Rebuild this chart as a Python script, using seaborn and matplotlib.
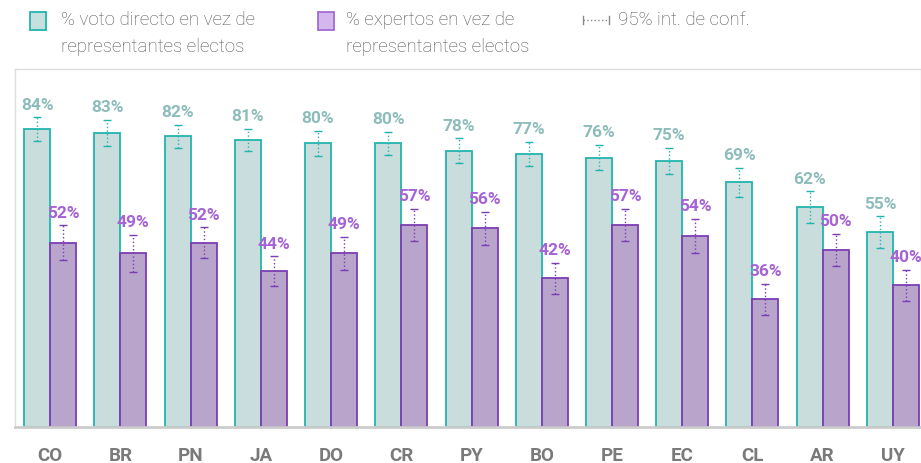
import numpy as np
import pandas as pd
import matplotlib.pyplot as plt
import seaborn as sns
from matplotlib.patches import Rectangle
from matplotlib.lines import Line2D

paises = ['CO', 'BR', 'PN', 'JA', 'DO', 'CR', 'PY', 'BO', 'PE', 'EC', 'CL', 'AR', 'UY']
voto_directo = [84, 83, 82, 81, 80, 80, 78, 77, 76, 75, 69, 62, 55]
expertos = [52, 49, 52, 44, 49, 57, 56, 42, 57, 54, 36, 50, 40]
ic_voto = [3.4, 3.7, 3.2, 3.1, 3.6, 3.3, 3.5, 3.4, 3.6, 3.7, 4.1, 4.5, 4.4]
ic_expertos = [4.9, 5.2, 4.4, 4.1, 4.6, 4.6, 4.7, 4.4, 4.6, 4.8, 4.4, 4.5, 4.4]

serie_1 = '% voto directo en vez de\nrepresentantes electos'
serie_2 = '% expertos en vez de\nrepresentantes electos'

df = pd.DataFrame({
    'pais': paises * 2,
    'valor': voto_directo + expertos,
    'ic': ic_voto + ic_expertos,
    'serie': [serie_1] * len(paises) + [serie_2] * len(paises),
})

teal_face, teal_edge, teal_txt = '#c6e0e0', '#22b5ae', '#8dbdbb'
lila_face, lila_edge, lila_txt = '#b99dd3', '#7a3db3', '#a663d6'

plt.rcParams['font.family'] = ['Roboto', 'DejaVu Sans']
fig = plt.figure(figsize=(9.21, 4.64), dpi=100)
ax = fig.add_axes([0.0163, 0.0776, 0.9837, 0.7716])

sns.barplot(data=df, x='pais', y='valor', hue='serie', hue_order=[serie_1, serie_2],
            palette=[teal_face, lila_face], width=0.74, errorbar=None,
            legend=False, ax=ax)

n = len(paises)
for i, p in enumerate(ax.patches[:2 * n]):
    es_teal = i < n
    p.set_edgecolor(teal_edge if es_teal else lila_edge)
    p.set_linewidth(1.3)

# error bars and labels
for k, (vals, ics, col, txtcol) in enumerate([(voto_directo, ic_voto, teal_edge, teal_txt),
                                              (expertos, ic_expertos, lila_edge, lila_txt)]):
    bars = ax.patches[k * n:(k + 1) * n]
    xs = [b.get_x() + b.get_width() / 2 for b in bars]
    eb = ax.errorbar(xs, vals, yerr=ics, fmt='none', ecolor=col, elinewidth=1,
                     capsize=3, capthick=1)
    for lc in eb[2]:
        lc.set_linestyle(':')
    for x, v, e in zip(xs, vals, ics):
        ax.annotate(f'{v}%', (x, v + e), xytext=(0, 4), textcoords='offset points',
                    ha='center', va='bottom', fontsize=12.5, fontweight='bold', color=txtcol)

ax.set_ylim(0, 101)
ax.set_xlim(-0.5, 12.4)
ax.set_yticks([])
ax.set_xlabel('')
ax.set_ylabel('')
ax.tick_params(axis='x', length=0, pad=14)
for lab in ax.get_xticklabels():
    lab.set_fontsize(13.5)
    lab.set_fontweight('bold')
    lab.set_color('#7a7a7a')
for s in ['top', 'left', 'right']:
    ax.spines[s].set_color('#dddddd')
    ax.spines[s].set_linewidth(1)
ax.spines['bottom'].set_color('#cccccc')
ax.spines['bottom'].set_linewidth(2)

# legend drawn in figure coords
W, H = 921, 464
def fx(px):
    return px / W
def fy(py):
    return 1 - py / H

fig.patches.append(Rectangle((fx(30), fy(31)), 16 / W, 18 / H, transform=fig.transFigure,
                             facecolor=teal_face, edgecolor=teal_edge, lw=1.3))
fig.patches.append(Rectangle((fx(318), fy(31)), 16 / W, 18 / H, transform=fig.transFigure,
                             facecolor='#d4b8ec', edgecolor='#a46ad6', lw=1.3))
fig.text(fx(61), fy(11), serie_1, ha='left', va='top', fontsize=13.5, fontweight='light',
         color='#555555', linespacing=1.65)
fig.text(fx(346), fy(11), serie_2, ha='left', va='top', fontsize=13.5, fontweight='light',
         color='#555555', linespacing=1.65)
fig.lines.append(Line2D([fx(583), fx(609)], [fy(21), fy(21)], transform=fig.transFigure,
                        color='#888888', lw=1, ls=':'))
for px in [583, 609]:
    fig.lines.append(Line2D([fx(px), fx(px)], [fy(17), fy(25)], transform=fig.transFigure,
                            color='#888888', lw=1))
fig.text(fx(618), fy(11), '95% int. de conf.', ha='left', va='top', fontsize=13.5,
         fontweight='light', color='#555555')

fig.savefig('out.png', dpi=100)
